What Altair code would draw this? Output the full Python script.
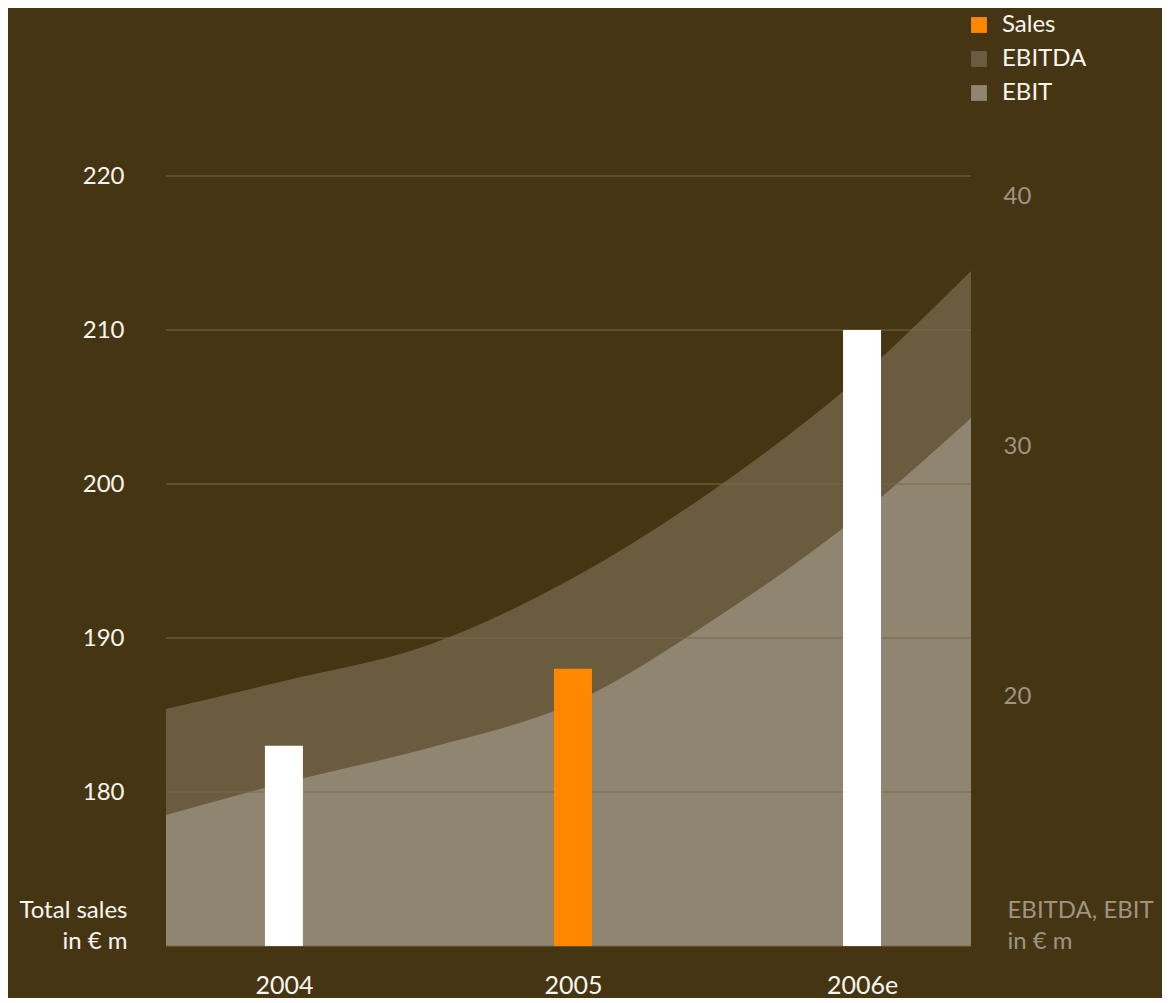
import altair as alt
import pandas as pd

# ---- data ----
years = ["2004", "2005", "2006e"]
year_pos = [0, 1, 2]
sales = [183, 188, 210]
bar_colors = ["#ffffff", "#ff8800", "#ffffff"]

curve_pos = [-0.408, 0, 0.5, 1, 1.5, 2, 2.377]
ebitda = [19.48, 20.6, 22.04, 24.72, 28.36, 32.84, 37.0]
ebit = [15.24, 16.52, 17.92, 19.72, 23.16, 27.32, 31.12]

sales_ticks = [180, 190, 200, 210, 220]
grid_values = [170, 180, 190, 200, 210, 220]
profit_ticks = [20, 30, 40]

series_names = ["Sales", "EBITDA", "EBIT"]
series_colors = ["#ff8800", "#6b5c40", "#8f8570"]

BG = "#463512"
WHITE = "#f8f6f0"
GREY = "#9e9482"
GRID = "#7a6a4c"
FONT = "Lato"

bars_df = pd.DataFrame({"pos": year_pos, "year": years, "sales": sales, "fill": bar_colors})
ebitda_df = pd.DataFrame({"pos": curve_pos, "value": ebitda, "series": "EBITDA"})
ebit_df = pd.DataFrame({"pos": curve_pos, "value": ebit, "series": "EBIT"})
grid_df = pd.DataFrame({"v": grid_values})

x_scale = alt.Scale(domain=[curve_pos[0], curve_pos[-1]], nice=False, zero=False, padding=0)
left_scale = alt.Scale(domain=[170, 220], nice=False, zero=False)
right_scale = alt.Scale(domain=[10, 40.8], nice=False, zero=False)
color_scale = alt.Scale(domain=series_names, range=series_colors)

label_expr = "[" + ",".join("'%s'" % y for y in years) + "][datum.value]"

x_axis = alt.Axis(
    values=year_pos, labelExpr=label_expr, ticks=False, domain=False, grid=False,
    labelFont=FONT, labelFontSize=25, labelColor=WHITE, labelPadding=27,
    labelFlush=False, title=None, zindex=1,
)


def xenc():
    return alt.X("pos:Q", scale=x_scale, axis=x_axis)


legend = alt.Legend(
    title=None, orient="none", legendX=801, legendY=-163, padding=0,
    symbolType="square", symbolSize=250, symbolStrokeWidth=0, symbolOpacity=1,
    labelFont=FONT, labelFontSize=24, labelColor=WHITE, labelOffset=11,
    rowPadding=10, labelBaseline="middle",
)

ebitda_layer = alt.Chart(ebitda_df).mark_area(interpolate="monotone", opacity=1, clip=True).encode(
    x=xenc(),
    y=alt.Y("value:Q", scale=right_scale, axis=alt.Axis(
        orient="right", values=profit_ticks, ticks=False, domain=False, grid=False,
        labelFont=FONT, labelFontSize=24, labelColor=GREY, labelPadding=32,
        title=["EBITDA, EBIT", "in € m"], titleAngle=0, titleX=36, titleY=741,
        titleAlign="left", titleBaseline="alphabetic", titleFont=FONT,
        titleFontSize=24, titleFontWeight="normal", titleColor=GREY, titleLineHeight=31,
        zindex=1,
    )),
    y2=alt.Y2("base:Q"),
    color=alt.Color("series:N", scale=color_scale, legend=legend),
).transform_calculate(base="10")

ebit_layer = alt.Chart(ebit_df).mark_area(interpolate="monotone", opacity=1, clip=True).encode(
    x=xenc(),
    y=alt.Y("value:Q", scale=right_scale, axis=None),
    y2=alt.Y2("base:Q"),
    color=alt.Color("series:N", scale=color_scale, legend=legend),
).transform_calculate(base="10")

grid_layer = alt.Chart(grid_df).mark_rule(color=GRID, strokeWidth=1.2).encode(
    y=alt.Y("v:Q", scale=left_scale, axis=None),
)

bar_layer = alt.Chart(bars_df).mark_bar(size=38).encode(
    x=xenc(),
    y=alt.Y("sales:Q", scale=left_scale, axis=alt.Axis(
        values=sales_ticks, ticks=False, domain=False, grid=False,
        labelFont=FONT, labelFontSize=24, labelColor=WHITE, labelPadding=42,
        title=["Total sales", "in € m"], titleAngle=0, titleX=-39, titleY=741,
        titleAlign="right", titleBaseline="alphabetic", titleFont=FONT,
        titleFontSize=24, titleFontWeight="normal", titleColor=WHITE, titleLineHeight=31,
        zindex=1,
    )),
    y2=alt.Y2("base:Q"),
    fill=alt.Fill("fill:N", scale=None),
).transform_calculate(base="170")

chart = alt.layer(ebitda_layer, ebit_layer, grid_layer, bar_layer).resolve_scale(
    y="independent"
).properties(
    width=805, height=770, background=BG,
    padding={"left": 158, "top": 168, "right": 191, "bottom": 52},
    autosize=alt.AutoSizeParams(type="none"),
).configure_view(stroke=None)

chart.save("out.html", embed_options={"renderer": "svg", "actions": False})
